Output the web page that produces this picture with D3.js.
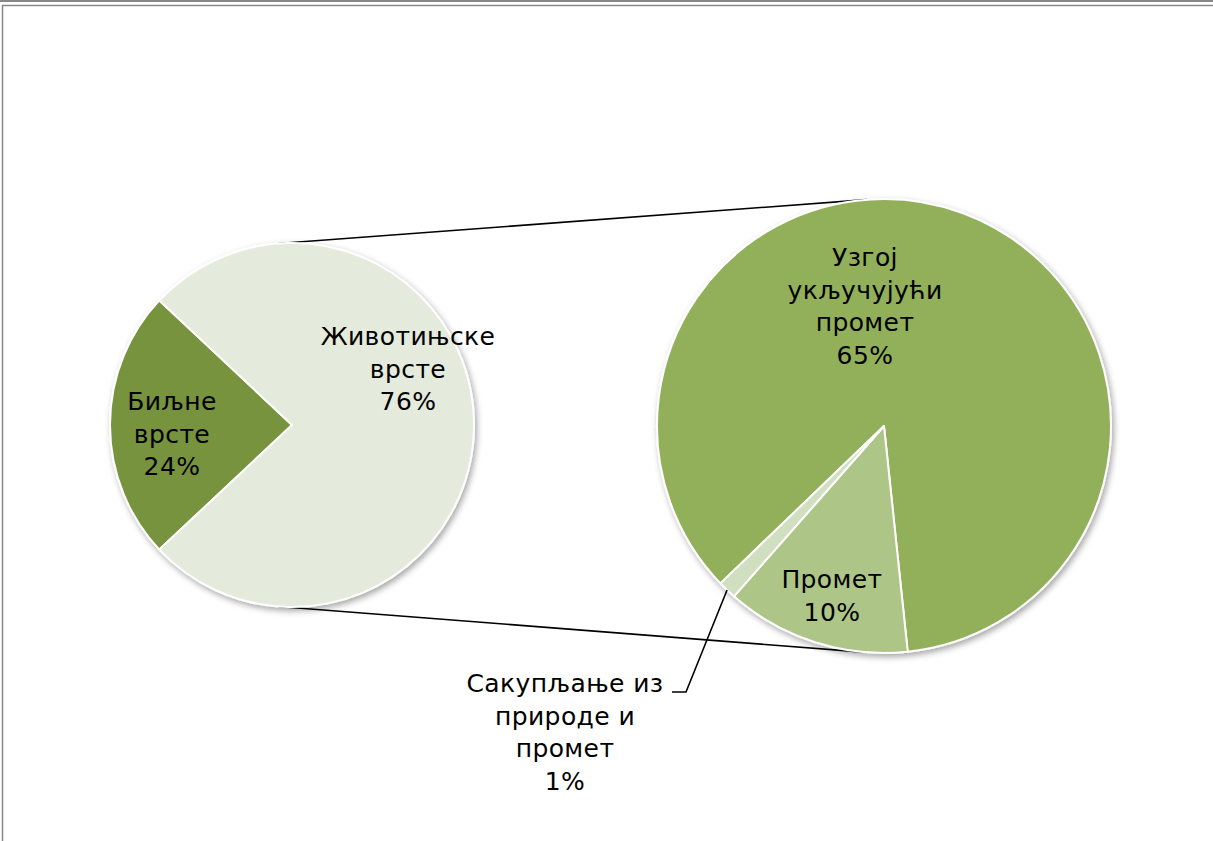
<!DOCTYPE html>
<html>
<head>
<meta charset="utf-8">
<script src="https://cdn.jsdelivr.net/npm/d3@7"></script>
<style>
  html, body { margin: 0; padding: 0; background: #fff; }
  svg { display: block; }
  text { font-family: "DejaVu Sans", Verdana, sans-serif; font-size: 25px; letter-spacing: 0.4px; fill: #000; }
</style>
</head>
<body>
<svg id="chart" width="1213" height="841"></svg>
<script>
"use strict";

// Main pie: plant vs animal species
const mainLabels = ["Биљне врсте", "Животињске врсте"];
const mainValues = [24, 76];
const mainColors = ["#77933c", "#e4eadc"];
const mainLines = [["Биљне", "врсте"], ["Животињске", "врсте"]];

// Secondary pie: breakdown of the animal species slice
const subLabels = ["Узгој укључујући промет", "Промет", "Сакупљање из природе и промет"];
const subValues = [65, 10, 1];
const subColors = ["#92b05a", "#adc688", "#d1dfc1"];
const subLines = [["Узгој", "укључујући", "промет"], ["Промет"], ["Сакупљање из", "природе и", "промет"]];

const svg = d3.select("#chart");
const W = 1213, H = 841;

// frame like the cropped Excel chart area
svg.append("line").attr("x1", 0).attr("x2", W).attr("y1", 1).attr("y2", 1)
  .attr("stroke", "#888").attr("stroke-width", 2);
svg.append("rect").attr("x", 2.5).attr("y", 5.5).attr("width", W + 10).attr("height", H + 10)
  .attr("fill", "none").attr("stroke", "#888").attr("stroke-width", 1.5);

const defs = svg.append("defs");
defs.append("filter").attr("id", "shadow")
  .attr("x", "-10%").attr("y", "-10%").attr("width", "125%").attr("height", "125%")
  .append("feDropShadow")
  .attr("dx", 2).attr("dy", 3).attr("stdDeviation", 3)
  .attr("flood-color", "#000").attr("flood-opacity", 0.35);

const main = { cx: 292, cy: 425, r: 182 };
const sub = { cx: 884, cy: 426, r: 227 };

const deg = Math.PI / 180;
const total = d3.sum(subValues);

// plant slice centered at 9 o'clock
const mainStart = 270 * deg - mainValues[0] / d3.sum(mainValues) * Math.PI;
const mainPie = d3.pie().sort(null).startAngle(mainStart).endAngle(mainStart + 2 * Math.PI);

// second pie: "Промет" ends up just right of 6 o'clock
const subStart = 174 * deg - subValues[0] / total * 2 * Math.PI;
const subPie = d3.pie().sort(null).startAngle(subStart).endAngle(subStart + 2 * Math.PI);

// connector lines = outer tangents of the two circles, drawn behind the pies
const dist = Math.hypot(sub.cx - main.cx, sub.cy - main.cy);
const tilt = Math.asin((sub.r - main.r) / dist);
[-tilt, Math.PI + tilt].forEach(function (a) {
  svg.append("line")
    .attr("x1", main.cx + main.r * Math.sin(a)).attr("y1", main.cy - main.r * Math.cos(a))
    .attr("x2", sub.cx + sub.r * Math.sin(a)).attr("y2", sub.cy - sub.r * Math.cos(a))
    .attr("stroke", "#000").attr("stroke-width", 1.6);
});

function drawPie(pos, pie, values, colors, name) {
  const arc = d3.arc().innerRadius(0).outerRadius(pos.r);
  const g = svg.append("g").attr("class", name)
    .attr("transform", "translate(" + pos.cx + "," + pos.cy + ")")
    .attr("filter", "url(#shadow)");
  g.selectAll("path").data(pie(values)).join("path")
    .attr("d", arc)
    .attr("fill", (d, i) => colors[i])
    .attr("stroke", "#fff").attr("stroke-width", 2).attr("stroke-linejoin", "round");
}

drawPie(main, mainPie, mainValues, mainColors, "main-pie");
drawPie(sub, subPie, subValues, subColors, "sub-pie");

const pct = d3.format(".0%");
const lineH = 32.5;

function drawLabel(x, y, lines, value, sum) {
  const t = svg.append("text").attr("text-anchor", "middle");
  lines.concat([pct(value / sum)]).forEach(function (s, i) {
    t.append("tspan").attr("x", x).attr("y", y + i * lineH).text(s);
  });
}

// label anchors relative to pie centre (x, first baseline)
const mainLabelPos = [[-120, -15], [116, -80]];
const subLabelPos = [[-19, -160], [-52, 162], [-319, 266]];

mainLines.forEach(function (lines, i) {
  drawLabel(main.cx + mainLabelPos[i][0], main.cy + mainLabelPos[i][1], lines, mainValues[i], d3.sum(mainValues));
});
subLines.forEach(function (lines, i) {
  drawLabel(sub.cx + subLabelPos[i][0], sub.cy + subLabelPos[i][1], lines, subValues[i], d3.sum(mainValues));
});

// leader line for the tiny slice
const tiny = subPie(subValues)[2];
const midA = (tiny.startAngle + tiny.endAngle) / 2;
const lx = sub.cx + subLabelPos[2][0], ly = sub.cy + subLabelPos[2][1];
svg.append("polyline")
  .attr("points", [
    [sub.cx + sub.r * Math.sin(midA), sub.cy - sub.r * Math.cos(midA)],
    [lx + 121, ly],
    [lx + 107, ly]
  ].map(p => p.join(",")).join(" "))
  .attr("fill", "none").attr("stroke", "#000").attr("stroke-width", 1.6);
</script>
</body>
</html>
